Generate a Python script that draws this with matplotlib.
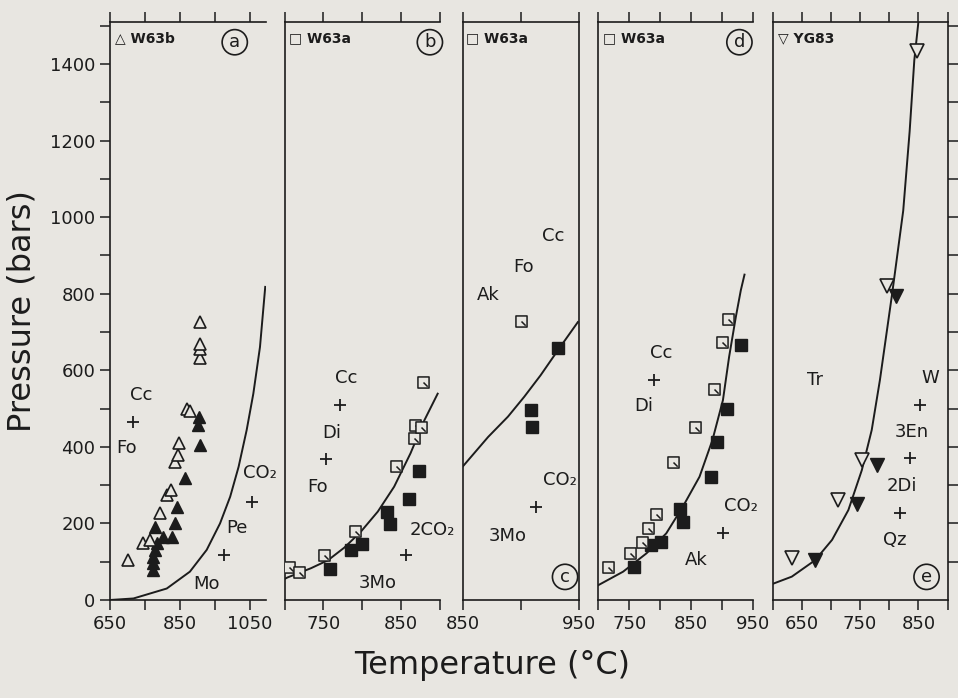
import numpy as np
import matplotlib
matplotlib.use('Agg')
import matplotlib.pyplot as plt
from matplotlib.path import Path
from matplotlib.ticker import FixedLocator, NullFormatter

# 1. Data: temperature (C) and pressure (bars)

# panel a, W63b
a_open_T = [702, 743, 764, 793, 812, 823, 836, 845, 847, 871, 878, 907, 907, 907, 907]
a_open_P = [104, 148, 157, 226, 274, 287, 361, 378, 409, 500, 495, 633, 657, 670, 726]
a_fill_T = [774, 774, 774, 779, 783, 779, 802, 826, 836, 840, 864, 907, 902, 905]
a_fill_P = [78, 96, 113, 130, 148, 191, 165, 165, 200, 244, 318, 405, 457, 479]
a_curve_T = [650, 717, 812, 878, 926, 964, 993, 1017, 1040, 1059, 1078, 1093]
a_curve_P = [0, 4, 30, 74, 131, 200, 270, 348, 444, 539, 661, 818]
a_cross_T = [717, 1055, 974]
a_cross_P = [465, 257, 117]
a_labels = [('Cc', 740, 535), ('Fo', 698, 396), ('CO₂', 1078, 331),
            ('Pe', 1012, 187), ('Mo', 926, 43)]

# panel b, W63a
b_open_T = [706, 718, 751, 791, 844, 866, 868, 876, 878]
b_open_P = [87, 72, 117, 181, 350, 422, 457, 451, 570]
b_fill_T = [758, 785, 800, 832, 836, 860, 873]
b_fill_P = [80, 131, 146, 229, 198, 264, 338]
b_curve_T = [700, 704, 734, 756, 777, 798, 820, 841, 862, 880, 897]
b_curve_P = [55, 59, 83, 104, 137, 178, 231, 296, 383, 470, 539]
b_cross_T = [771, 753, 856]
b_cross_P = [509, 368, 117]
b_labels = [('Cc', 779, 579), ('Di', 761, 437), ('Fo', 742, 296),
            ('2CO₂', 890, 183), ('3Mo', 820, 45)]

# panel c, W63a
c_open_T = [900]
c_open_P = [728]
c_fill_T = [932, 909, 910]
c_fill_P = [659, 496, 451]
c_curve_T = [850, 872, 889, 903, 917, 932, 949]
c_curve_P = [348, 426, 479, 531, 587, 653, 726]
c_cross_T = [913]
c_cross_P = [244]
c_labels = [('Cc', 928, 950), ('Fo', 902, 870), ('Ak', 872, 796),
            ('CO₂', 934, 313), ('3Mo', 889, 167)]

# panel d, W63a
d_open_T = [716, 751, 771, 781, 794, 821, 856, 887, 901, 911]
d_open_P = [87, 122, 152, 187, 224, 361, 452, 552, 674, 733]
d_fill_T = [758, 786, 802, 833, 837, 883, 892, 908, 932]
d_fill_P = [87, 144, 152, 238, 203, 322, 413, 500, 666]
d_curve_T = [700, 740, 778, 810, 837, 864, 885, 902, 912, 923, 931, 937]
d_curve_P = [39, 74, 122, 174, 244, 322, 418, 522, 635, 740, 809, 850]
d_cross_T = [790, 902]
d_cross_P = [576, 174]
d_labels = [('Cc', 802, 644), ('Di', 773, 506), ('CO₂', 931, 245), ('Ak', 858, 104)]

# panel e, YG83
e_open_T = [633, 712, 753, 796, 847]
e_open_P = [109, 261, 367, 819, 1435]
e_fill_T = [673, 744, 779, 812]
e_fill_P = [104, 252, 352, 793]
e_curve_T = [600, 633, 673, 702, 730, 753, 770, 784, 805, 824, 835, 843, 850]
e_curve_P = [42, 61, 104, 157, 235, 339, 444, 574, 800, 1017, 1224, 1410, 1510]
e_cross_T = [853, 836, 819]
e_cross_P = [509, 370, 228]
e_labels = [('Tr', 673, 575), ('W', 870, 579), ('3En', 839, 439),
            ('2Di', 821, 298), ('Qz', 810, 158)]

# 2. Style
ink = '#1c1c1c'
paper = '#e8e6e1'
plt.rcParams['font.family'] = ['DejaVu Sans']

# open square with a little tail, like the reversal marks in the scan
sq_tail = Path([(-1, -1), (1, -1), (1, 1), (-1, 1), (-1, -1), (0, 0), (0.75, -0.75)],
               [Path.MOVETO, Path.LINETO, Path.LINETO, Path.LINETO, Path.CLOSEPOLY,
                Path.MOVETO, Path.LINETO])

fig = plt.figure(figsize=(9.58, 6.98), dpi=100, facecolor=paper)

bottom, height = 0.1404, 0.8281
boxes = [(0.1148, 0.1628), (0.2970, 0.1623), (0.4828, 0.1216),
         (0.6247, 0.1608), (0.8064, 0.1827)]
xlims = [(650, 1095), (700, 900), (850, 950), (700, 950), (600, 900)]
xticks = [[650, 750, 850, 950, 1050], [700, 750, 800, 850, 900], [850, 900, 950],
          [700, 750, 800, 850, 900, 950], [600, 650, 700, 750, 800, 850, 900]]
xlabels = [[650, 850, 1050], [750, 850], [850, 950], [750, 850, 950], [650, 750, 850]]
legend_txt = ['△ W63b', '□ W63a', '□ W63a', '□ W63a', '▽ YG83']
letters = ['a', 'b', 'c', 'd', 'e']
letter_pos = [(0.80, 0.965), (0.935, 0.965), (0.88, 0.04), (0.915, 0.965), (0.88, 0.04)]

panels = [
    (a_open_T, a_open_P, a_fill_T, a_fill_P, a_curve_T, a_curve_P, a_cross_T, a_cross_P, a_labels, 'tri'),
    (b_open_T, b_open_P, b_fill_T, b_fill_P, b_curve_T, b_curve_P, b_cross_T, b_cross_P, b_labels, 'sq'),
    (c_open_T, c_open_P, c_fill_T, c_fill_P, c_curve_T, c_curve_P, c_cross_T, c_cross_P, c_labels, 'sq'),
    (d_open_T, d_open_P, d_fill_T, d_fill_P, d_curve_T, d_curve_P, d_cross_T, d_cross_P, d_labels, 'sq'),
    (e_open_T, e_open_P, e_fill_T, e_fill_P, e_curve_T, e_curve_P, e_cross_T, e_cross_P, e_labels, 'dtri'),
]

# 3. Draw the five panels
for i, (oT, oP, fT, fP, cT, cP, xT, xP, labs, kind) in enumerate(panels):
    ax = fig.add_axes([boxes[i][0], bottom, boxes[i][1], height])
    ax.set_facecolor(paper)
    ax.patch.set_alpha(0)

    ax.plot(cT, cP, color=ink, lw=1.4, zorder=2)

    if kind == 'tri':
        ax.plot(fT, fP, ls='none', marker='^', ms=9, color=ink, zorder=3)
        ax.plot(oT, oP, ls='none', marker='^', ms=9, mfc=paper, mec=ink, mew=1.2, zorder=4)
    elif kind == 'sq':
        ax.plot(fT, fP, ls='none', marker='s', ms=8, color=ink, zorder=3)
        ax.plot(oT, oP, ls='none', marker=sq_tail, ms=8, mfc=paper, mec=ink, mew=1.1, zorder=4)
    else:
        ax.plot(fT, fP, ls='none', marker='v', ms=10, color=ink, zorder=3)
        ax.plot(oT, oP, ls='none', marker='v', ms=10, mfc=paper, mec=ink, mew=1.2, zorder=4)

    ax.plot(xT, xP, ls='none', marker='+', ms=9, mew=1.3, color=ink, zorder=3)

    for txt, tx, ty in labs:
        ax.text(tx, ty, txt, fontsize=13, color=ink, ha='center', va='center', clip_on=False)

    ax.text(0.03, 0.972, legend_txt[i], transform=ax.transAxes, fontsize=10,
            fontweight='bold', color=ink, ha='left', va='center')
    ax.text(letter_pos[i][0], letter_pos[i][1], letters[i], transform=ax.transAxes,
            fontsize=13, color=ink, ha='center', va='center',
            bbox=dict(boxstyle='circle,pad=0.2', fc='none', ec=ink, lw=1.2))

    ax.set_xlim(*xlims[i])
    ax.set_ylim(0, 1510)

    # x ticks top and bottom, labels only on some of them
    ax.xaxis.set_major_locator(FixedLocator(xlabels[i]))
    ax.xaxis.set_minor_locator(FixedLocator([t for t in xticks[i] if t not in xlabels[i]]))
    ax.xaxis.set_minor_formatter(NullFormatter())
    ax.tick_params(axis='x', which='both', direction='out', length=7, width=1.1,
                   top=True, bottom=True, color=ink, labelcolor=ink, labelsize=13, pad=4)

    for side in ['left', 'bottom', 'top', 'right']:
        ax.spines[side].set_linewidth(1.2)
        ax.spines[side].set_color(ink)
    ax.spines['right'].set_visible(i in (2, 4))

    if i == 0:
        ax.yaxis.set_major_locator(FixedLocator(list(range(0, 1401, 200))))
        ax.yaxis.set_minor_locator(FixedLocator(list(range(100, 1501, 200))))
        ax.tick_params(axis='y', which='both', direction='out', length=7, width=1.1,
                       left=True, right=False, color=ink, labelcolor=ink, labelsize=13)
    elif i == 4:
        ax.yaxis.set_major_locator(FixedLocator(list(range(100, 1501, 100))))
        ax.tick_params(axis='y', which='both', direction='out', length=7, width=1.1,
                       left=False, right=True, labelleft=False, labelright=False, color=ink)
    else:
        ax.set_yticks([])

# 4. Axis titles
fig.text(0.023, bottom + height / 2, 'Pressure (bars)', rotation=90, fontsize=23,
         color=ink, ha='center', va='center')
fig.text(0.514, 0.047, 'Temperature (°C)', fontsize=23, color=ink, ha='center', va='center')

plt.savefig('out.png', dpi=100, facecolor=paper)
